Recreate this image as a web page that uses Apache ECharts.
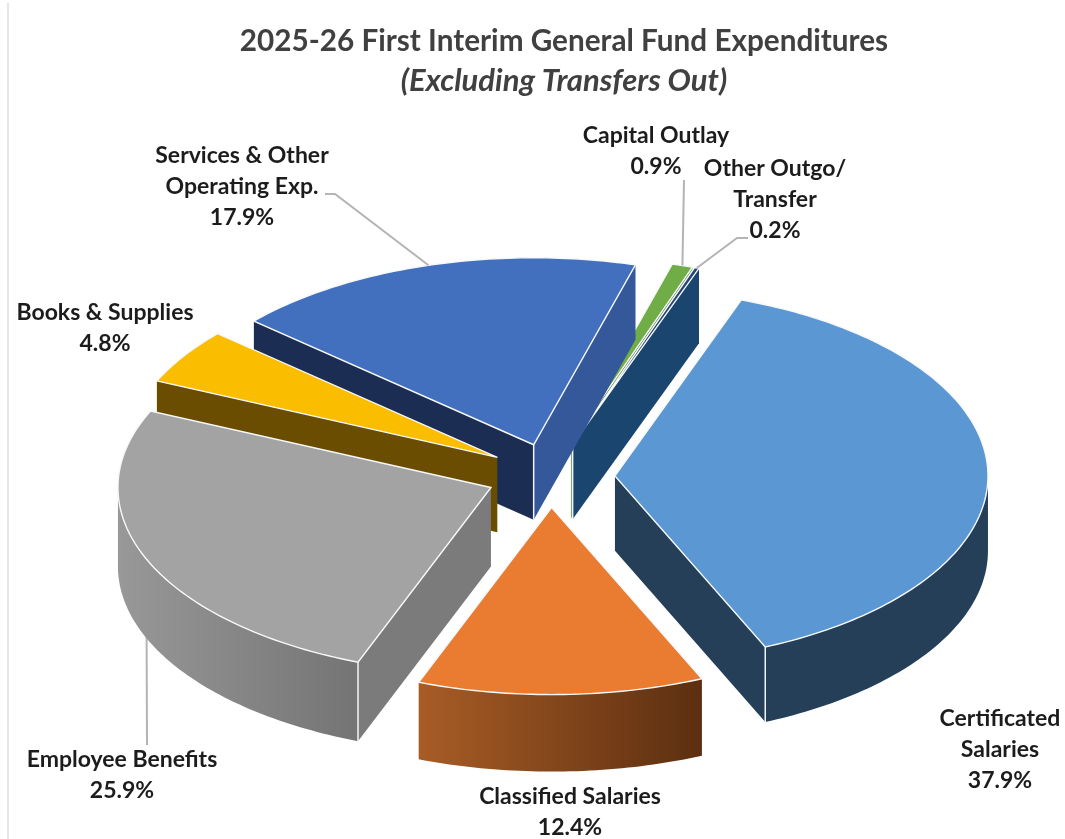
<!DOCTYPE html>
<html>
<head>
<meta charset="utf-8">
<style>html,body{margin:0;padding:0;background:#fff}#chart{width:1065px;height:839px}</style>
<script src="https://cdn.jsdelivr.net/npm/echarts@6/dist/echarts.min.js"></script>
</head>
<body>
<div id="chart"></div>
<script>
// General fund expenditure shares, percent of total
const categories = ['Certificated Salaries', 'Classified Salaries', 'Employee Benefits', 'Books & Supplies',
  'Services & Other Operating Exp.', 'Capital Outlay', 'Other Outgo/ Transfer'];
const shares = [37.9, 12.4, 25.9, 4.8, 17.9, 0.9, 0.2];
const labelLines = [['Certificated', 'Salaries'], ['Classified Salaries'], ['Employee Benefits'], ['Books & Supplies'],
  ['Services & Other', 'Operating Exp.'], ['Capital Outlay'], ['Other Outgo/', 'Transfer']];

// Slice colours: top, start-edge face, end-edge face, rim gradient stops
const topColors = ['#5b97d3', '#e97c30', '#a3a3a3', '#fbbd00', '#4270bf', '#70ad47', '#264478'];
const startFace = ['#243f57', '#8a4a1c', '#7b7b7b', '#6a4d00', '#1b2d52', '#4a7a2e', '#1a456f'];
const endFace = ['#243f57', '#8a4a1c', '#7b7b7b', '#6a4d00', '#34589a', '#4a7a2e', '#1a456f'];
const rimFrom = ['#243f57', '#a85c25', '#989898', '#6a4d00', '#1b2d52', '#4a7a2e', '#1a456f'];
const rimTo = ['#243f57', '#5c2f10', '#747474', '#6a4d00', '#1b2d52', '#4a7a2e', '#1a456f'];

// Back-to-front paint rank of each slice
const paintRank = [5, 6, 4, 3, 2, 0, 1];

// Label centres and leader lines (null where a slice has no leader)
const labelCentres = [[1000, 750], [570, 812], [122, 775], [105, 328], [242, 187], [656, 151], [775, 200]];
const leaderElbows = [null, null, [[147, 745]], null, [[325, 194], [335, 194]], [[684, 180]], [[748, 238], [737, 238]]];

// Projection of the tilted pie
const centre = [553, 475];
const radiusX = 373;
const radiusY = 187;
const explode = 65;
const startAngle = 19.8;
// Per-slice wall height and small offsets of the exploded position
const sliceDepth = [75, 77, 79, 75, 75, 75, 75];
const sliceNudge = [[-3, 2], [-3, 0], [-2, 0], [-1, 0], [-1, 1], [-2, 0], [-2, 0]];

const rad = d => d * Math.PI / 180;
const cumulative = shares.reduce((acc, v) => { acc.push(acc[acc.length - 1] + v); return acc; }, [0]);
const total = cumulative[cumulative.length - 1];

function renderSlice(params, api) {
  const i = api.value(1);
  const a0 = startAngle + cumulative[i] / total * 360;
  const a1 = startAngle + cumulative[i + 1] / total * 360;
  const mid = (a0 + a1) / 2;
  const apex = [
    centre[0] + sliceNudge[i][0] + explode * Math.sin(rad(mid)),
    centre[1] + sliceNudge[i][1] - explode * radiusY / radiusX * Math.cos(rad(mid))
  ];
  const rim = a => [apex[0] + radiusX * Math.sin(rad(a)), apex[1] - radiusY * Math.cos(rad(a))];
  const down = p => [p[0], p[1] + sliceDepth[i]];
  const base = paintRank[i] * 10 + 10;

  const arc = (from, to) => {
    const pts = [];
    const n = Math.max(1, Math.ceil(to - from));
    for (let k = 0; k <= n; k++) pts.push(rim(from + (to - from) * k / n));
    return pts;
  };
  const children = [];
  const edgeLine = (p, q, z) => children.push({
    type: 'line', z2: z, silent: true,
    shape: { x1: p[0], y1: p[1], x2: q[0], y2: q[1] },
    style: { stroke: '#f4f6f8', lineWidth: 1.5 }
  });

  // Leader runs underneath the slices it points at
  const elbow = leaderElbows[i];
  if (elbow) {
    children.push({
      type: 'polyline', z2: i === 2 ? 1 : 200, silent: true,
      shape: { points: elbow.concat([rim(mid)]) },
      style: { stroke: '#b4b4b4', lineWidth: 2, fill: null }
    });
  }

  // Radial cut faces, where they turn towards the viewer
  const p0 = rim(a0), p1 = rim(a1);
  const startVisible = Math.sin(rad(a0)) < 0;
  const endVisible = Math.sin(rad(a1)) > 0;
  if (startVisible) {
    children.push({ type: 'polygon', z2: base + 1, silent: true,
      shape: { points: [apex, p0, down(p0), down(apex)] }, style: { fill: startFace[i] } });
  }
  if (endVisible) {
    children.push({ type: 'polygon', z2: base + 1, silent: true,
      shape: { points: [apex, p1, down(p1), down(apex)] }, style: { fill: endFace[i] } });
  }

  // Outer wall over the front half of the ellipse
  const w0 = Math.max(a0, 90), w1 = Math.min(a1, 270);
  if (w1 > w0) {
    const top = arc(w0, w1);
    const bottom = top.map(down).reverse();
    children.push({ type: 'polygon', z2: base + 2, silent: true,
      shape: { points: top.concat(bottom) },
      style: { fill: new echarts.graphic.LinearGradient(0, 0, 1, 0, [
        { offset: 0, color: rimFrom[i] },
        { offset: 1, color: rimTo[i] }
      ]) } });
  }

  // Corner highlights between faces and wall
  if (startVisible && a0 >= 90 && a0 <= 270) edgeLine(p0, down(p0), base + 3);
  if (endVisible && a1 >= 90 && a1 <= 270) edgeLine(p1, down(p1), base + 3);
  if (startVisible && endVisible || (endVisible && a1 - a0 < 10)) edgeLine(apex, down(apex), base + 3);

  // Top face
  children.push({ type: 'polygon', z2: base + 4,
    shape: { points: [apex].concat(arc(a0, a1)) },
    style: { fill: topColors[i], stroke: '#f6f8fa', lineWidth: 1.4, lineJoin: 'miter' } });

  // Category label with its share
  const lines = labelLines[i].concat([api.value(0).toFixed(1) + '%']);
  children.push({ type: 'text', z2: 300, silent: true,
    style: {
      text: lines.join('\n'), x: labelCentres[i][0], y: labelCentres[i][1],
      align: 'center', verticalAlign: 'middle',
      font: 'bold 23px Lato', lineHeight: 31, fill: '#1c1c1c'
    } });
  return { type: 'group', children };
}

const chart = echarts.init(document.getElementById('chart'), null, { renderer: 'canvas' });
chart.setOption({
  animation: false,
  backgroundColor: '#ffffff',
  title: {
    text: '2025-26 First Interim General Fund Expenditures',
    subtext: '(Excluding Transfers Out)',
    left: 559, top: 21, textAlign: 'center', itemGap: 9,
    textStyle: { fontFamily: 'Lato', fontWeight: 'bold', fontSize: 29.7, color: '#404040' },
    subtextStyle: { fontFamily: 'Lato', fontWeight: 'bold', fontStyle: 'italic', fontSize: 31, color: '#404040' }
  },
  graphic: [{ type: 'line', shape: { x1: 8, y1: 3, x2: 8, y2: 839 }, style: { stroke: '#dcdcdc', lineWidth: 1.5 } }],
  series: [{
    type: 'custom',
    coordinateSystem: 'none',
    renderItem: renderSlice,
    data: shares.map((v, i) => ({ name: categories[i], value: [v, i] }))
  }]
});
</script>
</body>
</html>
